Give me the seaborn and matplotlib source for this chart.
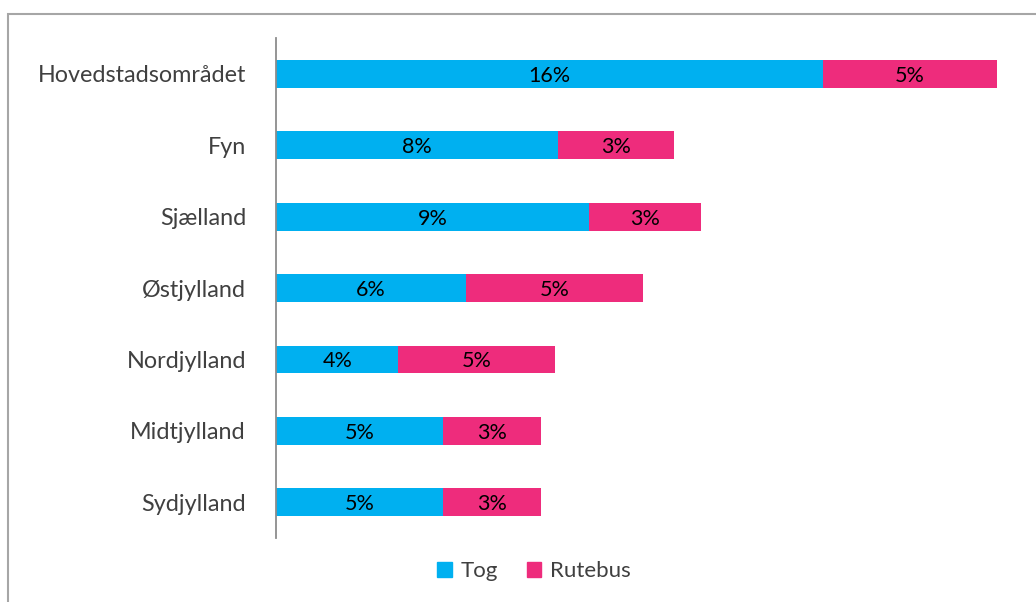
import matplotlib
matplotlib.use("Agg")
import matplotlib.pyplot as plt
import matplotlib.patches as mpatches
import seaborn as sns
import pandas as pd
import numpy as np

regions = ["Hovedstadsområdet", "Fyn", "Sjælland", "Østjylland",
           "Nordjylland", "Midtjylland", "Sydjylland"]
tog = [16.1, 8.3, 9.2, 5.6, 3.6, 4.9, 4.9]
rutebus = [5.1, 3.4, 3.3, 5.2, 4.6, 2.9, 2.9]

TOG_COLOR = "#00B0F0"
BUS_COLOR = "#EE2C7C"
TEXT_GRAY = "#404040"

sns.set_theme(style="white")
plt.rcParams["font.family"] = ["Lato", "DejaVu Sans"]

df = pd.DataFrame({"region": regions, "Tog": tog, "Rutebus": rutebus})
df["total"] = df["Tog"] + df["Rutebus"]

fig = plt.figure(figsize=(10.36, 6.02), dpi=100)
ax = fig.add_axes([276 / 1036, 1 - 538 / 602, (1024 - 276) / 1036, 500 / 602])

# stacked bars: full total in pink, train share drawn on top
sns.barplot(data=df, y="region", x="total", color=BUS_COLOR, saturation=1,
            width=0.39, ax=ax, orient="h")
sns.barplot(data=df, y="region", x="Tog", color=TOG_COLOR, saturation=1,
            width=0.39, ax=ax, orient="h")

bus_bars = ax.containers[0]
tog_bars = ax.containers[1]
for c in (bus_bars, tog_bars):
    for rect in c:
        rect.set_linewidth(0)

# segment labels
for rect, v in zip(tog_bars, tog):
    ax.text(rect.get_x() + rect.get_width() / 2, rect.get_y() + rect.get_height() / 2,
            f"{round(v):d}%", ha="center", va="center_baseline", fontsize=15.5,
            color="black")
for rect, t, v in zip(bus_bars, tog, rutebus):
    ax.text(t + v / 2, rect.get_y() + rect.get_height() / 2,
            f"{round(v):d}%", ha="center", va="center_baseline", fontsize=15.5,
            color="black")

ax.set_xlim(0, 22)
ax.set_ylim(6.5, -0.5)
ax.set_xlabel("")
ax.set_ylabel("")
ax.set_xticks([])
ax.tick_params(axis="y", length=0, pad=21.6, labelsize=16.8, labelcolor=TEXT_GRAY)
for side in ("top", "right", "bottom"):
    ax.spines[side].set_visible(False)
ax.spines["left"].set_color("#8C8C8C")
ax.spines["left"].set_linewidth(1.3)

handles = [mpatches.Patch(color=TOG_COLOR, label="Tog"),
           mpatches.Patch(color=BUS_COLOR, label="Rutebus")]
fig.legend(handles=handles, loc="center", bbox_to_anchor=(534 / 1036, 1 - 571 / 602),
           ncol=2, frameon=False, fontsize=16, handlelength=0.65, handleheight=0.65,
           handletextpad=0.4, columnspacing=1.3, labelcolor=TEXT_GRAY)

# chart frame
frame = mpatches.Rectangle((7.5 / 1036, -0.1), 1.2, 1 - 13.5 / 602 + 0.1,
                           transform=fig.transFigure, fill=False,
                           edgecolor="#A6A6A6", linewidth=1.5)
fig.patches.append(frame)

fig.savefig("out.png", dpi=100)
